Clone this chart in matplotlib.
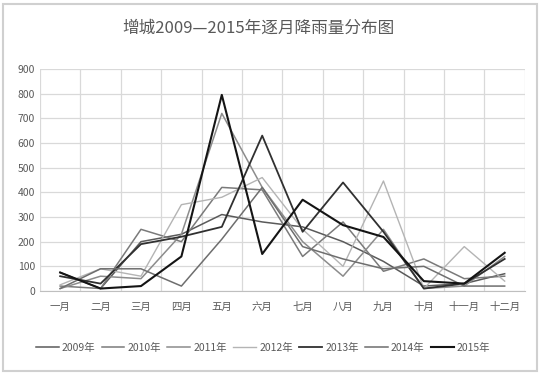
import matplotlib
matplotlib.use('Agg')
import matplotlib.pyplot as plt
from matplotlib.patches import Rectangle
import numpy as np

plt.rcParams['font.family'] = ['Noto Sans CJK SC', 'DejaVu Sans']

months = ['一月', '二月', '三月', '四月', '五月', '六月', '七月', '八月', '九月', '十月', '十一月', '十二月']
years = ['2009年', '2010年', '2011年', '2012年', '2013年', '2014年', '2015年']

# monthly rainfall (mm)
r2009 = [75, 10, 200, 230, 310, 280, 260, 200, 120, 20, 30, 70]
r2010 = [20, 10, 250, 200, 420, 410, 140, 280, 80, 130, 50, 60]
r2011 = [10, 60, 50, 230, 720, 420, 200, 60, 250, 10, 20, 140]
r2012 = [25, 90, 60, 350, 380, 460, 250, 100, 446, 10, 180, 40]
r2013 = [60, 30, 190, 220, 260, 630, 240, 440, 240, 10, 30, 130]
r2014 = [10, 90, 90, 20, 210, 420, 180, 130, 90, 100, 20, 20]
r2015 = [75, 10, 20, 140, 795, 150, 370, 267, 219, 40, 30, 155]

series = [r2009, r2010, r2011, r2012, r2013, r2014, r2015]
colors = ['#5a5a5a', '#7a7a7a', '#8c8c8c', '#b4b4b4', '#303030', '#6e6e6e', '#141414']
widths = [1.1, 1.1, 1.1, 1.0, 1.3, 1.1, 1.5]

fig = plt.figure(figsize=(5.4, 3.75), dpi=100)
ax = fig.add_axes([0.074, 0.224, 0.898, 0.592])

x = np.arange(len(months))
for vals, name, c, w in zip(series, years, colors, widths):
    ax.plot(x, vals, color=c, linewidth=w, label=name)

ax.set_xlim(-0.5, 11.5)
ax.set_ylim(0, 900)
ax.set_yticks(range(0, 901, 100))
ax.set_xticks(x)
ax.set_xticklabels(months)
ax.set_xticks(np.arange(-0.5, 12, 1), minor=True)
ax.grid(True, which='major', axis='y', color='#d9d9d9', linewidth=0.9)
ax.grid(True, which='minor', axis='x', color='#d9d9d9', linewidth=0.9)
ax.tick_params(which='both', length=0)
ax.tick_params(axis='both', labelsize=7.5, colors='#595959')
ax.tick_params(axis='x', pad=8)
for s in ['top', 'right', 'left']:
    ax.spines[s].set_visible(False)
ax.spines['bottom'].set_color('#bfbfbf')
ax.set_axisbelow(True)

fig.text(0.478, 0.925, '增城2009—2015年逐月降雨量分布图', ha='center', va='center',
         fontsize=12, color='#595959')

fig.legend(loc='center', bbox_to_anchor=(0.487, 0.072), ncol=7, frameon=False,
           fontsize=7.5, handlelength=2.2, columnspacing=0.6, handletextpad=0.3,
           labelcolor='#595959')

fig.patches.append(Rectangle((0.005, 0.01), 0.99, 0.98, transform=fig.transFigure,
                             fill=False, edgecolor='#d0d0d0', linewidth=1.5))

fig.savefig('out.png', dpi=100)
